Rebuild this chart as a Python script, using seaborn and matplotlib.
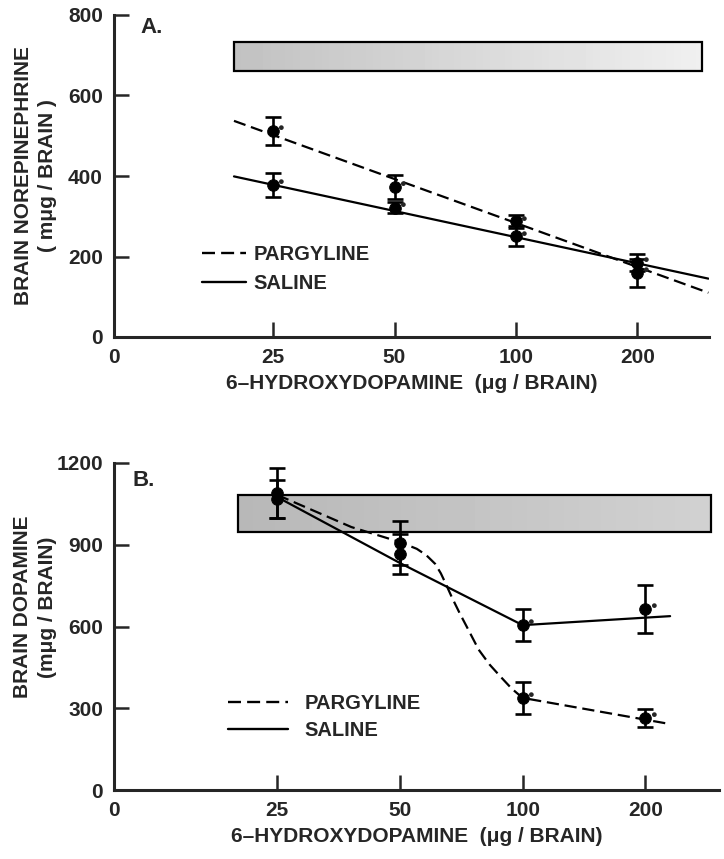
import numpy as np
import matplotlib
matplotlib.use("Agg")
import matplotlib.pyplot as plt
from matplotlib.patches import Rectangle
from matplotlib.lines import Line2D
import seaborn as sns

# doses of 6-hydroxydopamine (ug / brain)
doses = [25, 50, 100, 200]
tick_labels = ["0", "25", "50", "100", "200"]

# A. brain norepinephrine (mug / brain)
ne_parg = [512, 372, 287, 160]
ne_parg_err = [35, 30, 17, 35]
ne_sal = [378, 321, 250, 185]
ne_sal_err = [30, 14, 25, 20]
ne_parg_star = [True, True, True, True]
ne_sal_star = [True, True, True, True]
ne_line_dose = [20, 300]
ne_parg_line = [537, 110]
ne_sal_line = [399, 145]
ne_band = [661, 733]

# B. brain dopamine (mug / brain)
da_parg = [1090, 906, 338, 264]
da_parg_err = [92, 81, 58, 33]
da_sal = [1068, 866, 605, 664]
da_sal_err = [70, 73, 60, 88]
da_parg_star = [False, False, True, True]
da_sal_star = [False, False, True, True]
da_parg_line_dose = [25, 38, 50, 55, 58, 61, 63, 65, 67, 70, 73, 78, 83, 88, 94, 100, 230]
da_parg_line = [1083, 965, 910, 885, 862, 830, 795, 752, 708, 650, 598, 515, 460, 418, 372, 338, 242]
da_sal_line_dose = [25, 50, 100, 230]
da_sal_line = [1075, 833, 605, 638]
da_band = [947, 1083]

band_dose = [20, 290]

TXT = ['Liberation Sans Narrow', 'Liberation Sans', 'DejaVu Sans']
NUM = ['Liberation Sans', 'DejaVu Sans']
DASH = (0, (5.5, 2.6))


def pos(d):
    return np.log2(np.asarray(d, dtype=float) / 12.5)


def panel(ax, parg, parg_err, sal, sal_err, parg_star, sal_star,
          parg_lx, parg_ly, sal_lx, sal_ly, band, ymax, yticks, xlim,
          letter, letter_xy, ylabel, ylabel_xy, leg_xy, leg_hl, leg_pad, leg_sp,
          band_shade):
    x = pos(doses)
    # shaded normal range
    bx0, bx1 = pos(band_dose)
    grad = np.linspace(band_shade[0], band_shade[1], 64).reshape(1, -1)
    ax.imshow(grad, extent=[bx0, bx1, band[0], band[1]], aspect='auto',
              cmap='gray', vmin=0, vmax=1, zorder=1)
    ax.add_patch(Rectangle((bx0, band[0]), bx1 - bx0, band[1] - band[0],
                           fill=False, edgecolor='black', lw=1.6, zorder=2))

    sns.lineplot(x=pos(parg_lx), y=parg_ly, ax=ax, color='black', lw=1.6,
                 linestyle=DASH, estimator=None, sort=False, zorder=3)
    sns.lineplot(x=pos(sal_lx), y=sal_ly, ax=ax, color='black', lw=1.6,
                 estimator=None, sort=False, zorder=3)

    for vals, err, star in [(parg, parg_err, parg_star), (sal, sal_err, sal_star)]:
        ax.errorbar(x, vals, yerr=err, fmt='none', ecolor='black',
                    elinewidth=1.9, capsize=5.5, capthick=1.9, zorder=4)
        sns.scatterplot(x=x, y=vals, ax=ax, color='black', s=70,
                        edgecolor='black', zorder=5, legend=False)
        for xi, yi, st in zip(x, vals, star):
            if st:
                ax.annotate('\u25cf', xy=(xi, yi), xytext=(5.5, 2),
                            textcoords='offset points', fontsize=8,
                            ha='center', va='center', zorder=6)

    ax.set_xlim(xlim)
    ax.set_ylim(0, ymax)
    ax.set_xticks([xlim[0], 1, 2, 3, 4])
    ax.set_xticklabels(tick_labels, family=NUM, fontsize=15)
    ax.xaxis.get_major_ticks()[0].tick1line.set_visible(False)
    ax.set_yticks(yticks)
    ax.set_yticklabels([str(t) for t in yticks], family=NUM, fontsize=15)
    ax.tick_params(axis='both', direction='in', length=11, width=1.8, pad=8)
    for s in ['top', 'right']:
        ax.spines[s].set_visible(False)
    for s in ['left', 'bottom']:
        ax.spines[s].set_linewidth(2.2)

    ax.set_xlabel('6\u2013HYDROXYDOPAMINE  (\u03bcg / BRAIN)', family=TXT,
                  fontsize=15, fontweight='bold', labelpad=5)
    ax.set_ylabel(ylabel, family=TXT, fontsize=15, fontweight='bold',
                  linespacing=1.35)
    ax.yaxis.set_label_coords(*ylabel_xy)
    ax.text(letter_xy[0], letter_xy[1], letter, transform=ax.transAxes,
            family=TXT, fontsize=16, fontweight='bold', va='center')

    handles = [Line2D([], [], color='black', lw=1.7, linestyle=DASH),
               Line2D([], [], color='black', lw=1.7)]
    ax.legend(handles, ['PARGYLINE', 'SALINE'], loc='center left',
              bbox_to_anchor=leg_xy, frameon=False, borderpad=0,
              borderaxespad=0, handlelength=leg_hl, handletextpad=leg_pad,
              labelspacing=leg_sp,
              prop={'family': TXT, 'size': 14.5, 'weight': 'bold'})


sns.set_style('ticks')
plt.rcParams['font.family'] = TXT
plt.rcParams['font.weight'] = 'bold'

fig = plt.figure(figsize=(7.24, 8.59), dpi=100)
axA = fig.add_axes([114 / 724, 1 - 337 / 859, 595 / 724, 322 / 859])
axB = fig.add_axes([114 / 724, 1 - 790 / 859, 605 / 724, 327 / 859])

panel(axA, ne_parg, ne_parg_err, ne_sal, ne_sal_err, ne_parg_star, ne_sal_star,
      ne_line_dose, ne_parg_line, ne_line_dose, ne_sal_line, ne_band,
      800, [0, 200, 400, 600, 800], (-0.31, 4.59),
      'A.', (0.045, 0.96), 'BRAIN NOREPINEPHRINE\n( m\u03bcg / BRAIN )',
      (-0.095, 0.5), (0.148, 0.211), 2.2, 0.35, 0.5, (0.76, 0.94))

panel(axB, da_parg, da_parg_err, da_sal, da_sal_err, da_parg_star, da_sal_star,
      da_parg_line_dose, da_parg_line, da_sal_line_dose, da_sal_line, da_band,
      1200, [0, 300, 600, 900, 1200], (-0.33, 4.60),
      'B.', (0.03, 0.948), 'BRAIN DOPAMINE\n(m\u03bcg / BRAIN)',
      (-0.095, 0.56), (0.188, 0.222), 3.0, 0.8, 0.4, (0.72, 0.82))

fig.savefig('out.png', dpi=100, facecolor='white')
